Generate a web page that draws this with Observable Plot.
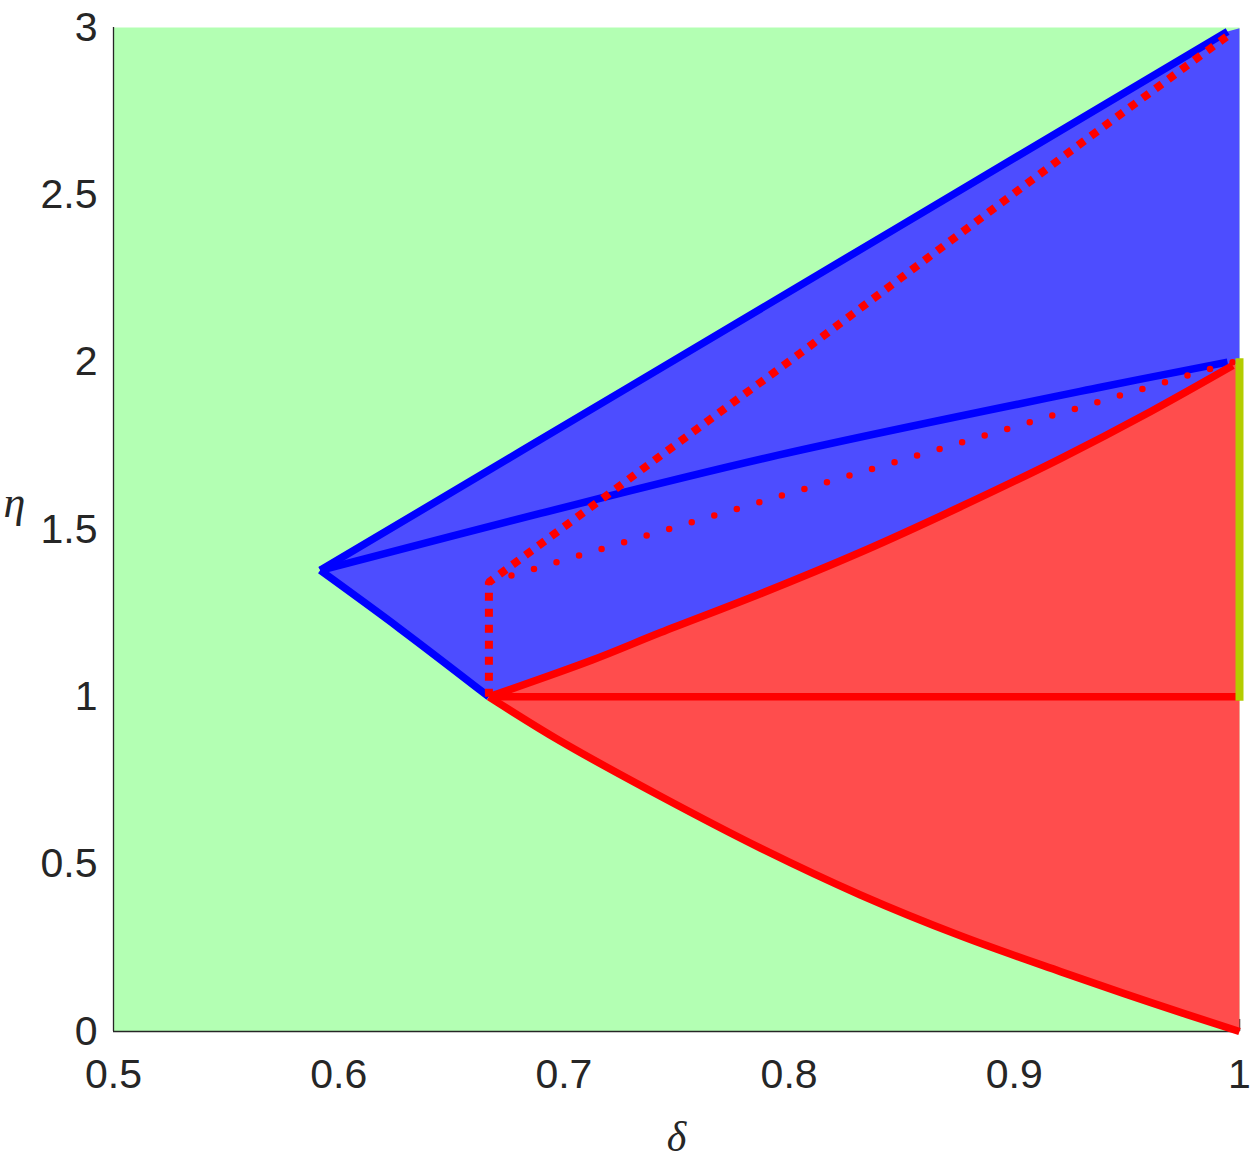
<!DOCTYPE html>
<html><head><meta charset="utf-8">
<script src="https://cdn.jsdelivr.net/npm/d3@7"></script>
<script src="https://cdn.jsdelivr.net/npm/@observablehq/plot@0.6"></script>
<style>html,body{margin:0;padding:0;background:#fff;overflow:hidden}#chart svg{display:block}</style>
</head><body><div id="chart"></div>
<script>
const xTicks = [0.5, 0.6, 0.7, 0.8, 0.9, 1];
const xTickLabels = ["0.5", "0.6", "0.7", "0.8", "0.9", "1"];
const yTicks = [0, 0.5, 1, 1.5, 2, 2.5, 3];
const yTickLabels = ["0", "0.5", "1", "1.5", "2", "2.5", "3"];

const blueUpperDelta = [0.5918, 0.7277, 0.9947];
const blueUpperEta = [1.378, 1.921, 2.988];
const blueMidDelta = [0.5918, 0.6895, 0.7951, 0.9383, 0.9947];
const blueMidEta = [1.378, 1.548, 1.722, 1.925, 2.0];
const blueLowDelta = [0.5918, 0.6273, 0.6667];
const blueLowEta = [1.378, 1.203, 1.0];
const redUpperDelta = [0.6667, 0.7126, 0.7429, 0.7873, 0.8317, 0.8761, 0.9205, 0.9604, 0.997];
const redUpperEta = [1.0, 1.110, 1.192, 1.308, 1.432, 1.568, 1.712, 1.852, 1.99];
const redLowDelta = [0.6667, 0.6984, 0.7429, 0.7873, 0.8317, 0.8761, 0.9205, 0.9604, 1.0];
const redLowEta = [1.0, 0.868, 0.703, 0.548, 0.408, 0.286, 0.179, 0.087, 0.0];
const redFlatDelta = [0.6667, 1.0];
const redFlatEta = [1.0, 1.0];
const yellowDelta = [1.0, 1.0];
const yellowEta = [1.0, 2.0];
const thickDotDelta = [0.6667, 0.6667, 0.7021, 0.7487, 0.8050, 0.9308, 0.9945];
const thickDotEta = [1.0, 1.3425, 1.518, 1.749, 2.027, 2.660, 2.974];
const thinDotDelta = [0.6667, 0.8067, 0.997];
const thinDotEta = [1.3425, 1.621, 2.0];
const blueCornerDelta = [1.0, 1.0];
const blueCornerEta = [2.998, 2.0];
const redCornerDelta = [1.0, 1.0];
const redCornerEta = [2.0, 0.0];
const cornerTick = [1];

const pts = (ds, es) => ds.map((d, i) => ({d, e: es[i]}));
const rev = a => a.slice().reverse();

const bluePoly = [
  ...pts(blueUpperDelta, blueUpperEta),
  ...pts(blueCornerDelta, blueCornerEta),
  ...rev(pts(redUpperDelta, redUpperEta)),
  ...rev(pts(blueLowDelta, blueLowEta))
];
const redPoly = [
  ...pts(redUpperDelta, redUpperEta),
  ...pts(redCornerDelta, redCornerEta),
  ...rev(pts(redLowDelta, redLowEta))
];

const solid = (data, color, w = 7.5) => Plot.line(data, {x: "d", y: "e", stroke: color, strokeWidth: w, strokeLinecap: "butt", strokeLinejoin: "round", curve: "catmull-rom"});

const ink = "#262626";
const chart = Plot.plot({
  width: 1251,
  height: 1161,
  marginLeft: 113,
  marginRight: 12,
  marginTop: 27,
  marginBottom: 130,
  x: {domain: [0.5, 1], label: null},
  y: {domain: [0, 3], label: null},
  style: {fontFamily: "'Liberation Sans', Arial, Helvetica, sans-serif", fontSize: "41px", color: ink, background: "#fff"},
  marks: [
    Plot.frame({fill: "#b3ffb3", stroke: "none"}),
    Plot.ruleX(cornerTick, {y1: 0, y2: 0.036, stroke: ink, strokeWidth: 1.5}),
    Plot.line(bluePoly, {x: "d", y: "e", fill: "#4d4dff", stroke: "none", curve: "linear"}),
    Plot.line(redPoly, {x: "d", y: "e", fill: "#ff4d4d", stroke: "none", curve: "linear"}),
    Plot.ruleY([0], {stroke: ink, strokeWidth: 1.3}),
    Plot.ruleX([0.5], {stroke: ink, strokeWidth: 1.3}),
    solid(pts(blueUpperDelta, blueUpperEta), "#0000ff"),
    solid(pts(blueMidDelta, blueMidEta), "#0000ff"),
    solid(pts(blueLowDelta, blueLowEta), "#0000ff"),
    Plot.line(pts(thinDotDelta, thinDotEta), {x: "d", y: "e", stroke: "#ff0000", strokeWidth: 6.5, strokeLinecap: "round", strokeDasharray: "0 23.5"}),
    Plot.line(pts(thickDotDelta, thickDotEta), {x: "d", y: "e", stroke: "#ff0000", strokeWidth: 8, strokeLinecap: "butt", strokeLinejoin: "miter", strokeDasharray: "8 8"}),
    solid(pts(redUpperDelta, redUpperEta), "#ff0000"),
    solid(pts(redLowDelta, redLowEta), "#ff0000"),
    solid(pts(redFlatDelta, redFlatEta), "#ff0000"),
    Plot.line(pts(yellowDelta, yellowEta), {x: "d", y: "e", stroke: "#b3cc00", strokeWidth: 8, strokeLinecap: "square"}),
    Plot.axisX({ticks: xTicks, tickFormat: d => xTickLabels[xTicks.indexOf(d)], tickSize: 0, tickPadding: 27, fontSize: 41, fill: ink, label: null}),
    Plot.axisY({ticks: yTicks, tickFormat: d => yTickLabels[yTicks.indexOf(d)], tickSize: 0, tickPadding: 16, fontSize: 41, fill: ink, label: null}),
    Plot.text(["δ"], {text: d => d, frameAnchor: "bottom", dy: 119, lineAnchor: "bottom", fontFamily: "'Liberation Serif', 'DejaVu Serif', serif", fontStyle: "italic", fontSize: 42, fill: ink}),
    Plot.text(["η"], {text: d => d, frameAnchor: "left", dx: -99, dy: -13, textAnchor: "middle", lineAnchor: "bottom", fontFamily: "'Liberation Serif', 'DejaVu Serif', serif", fontStyle: "italic", fontSize: 44, fill: ink})
  ]
});
document.getElementById("chart").appendChild(chart);
</script>
</body></html>
